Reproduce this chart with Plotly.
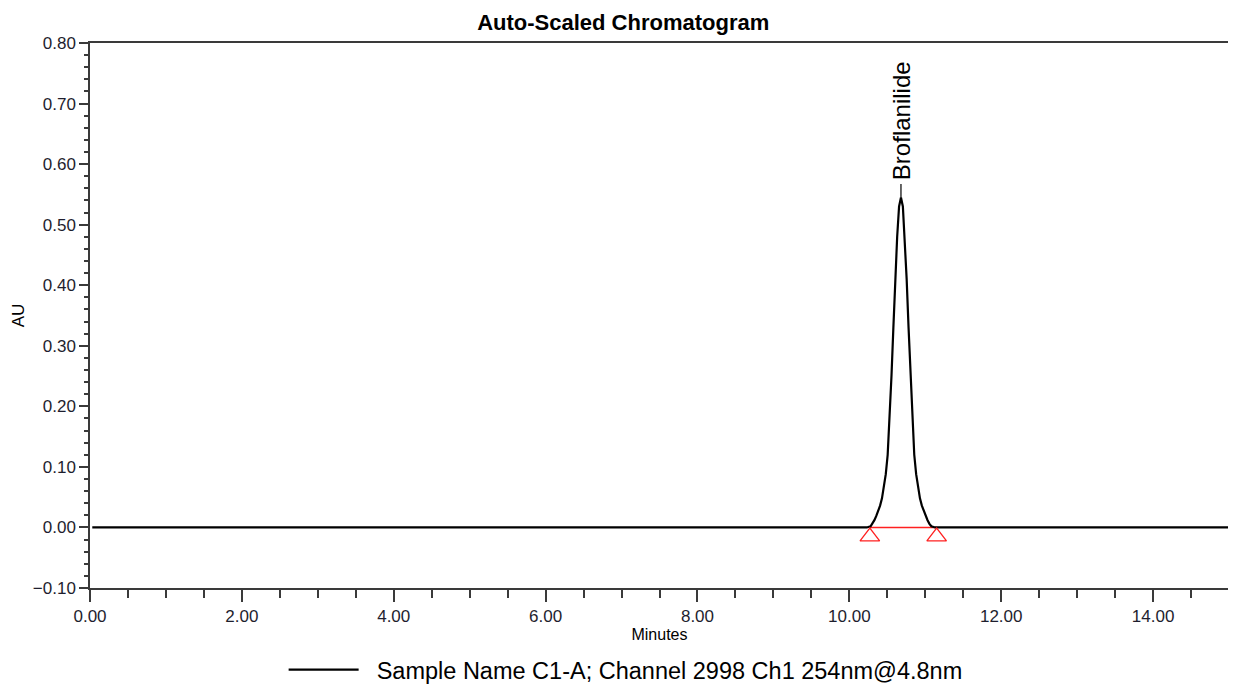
import plotly.graph_objects as go

# ---- data ----
time_min = [0.03, 1.00, 2.00, 2.25, 2.35, 2.45, 3.00, 4.00, 5.00, 6.00, 7.00, 8.00, 9.00, 10.00,
            10.23, 10.28, 10.305, 10.33, 10.355, 10.38, 10.405, 10.43, 10.455, 10.48, 10.505,
            10.53, 10.555, 10.58, 10.605, 10.63, 10.655, 10.68, 10.705, 10.73, 10.755,
            10.78, 10.805, 10.83, 10.855, 10.88, 10.905, 10.93, 10.955, 10.98, 11.005,
            11.03, 11.055, 11.08, 11.13, 11.20, 12.00, 13.00, 14.00, 15.00]
absorbance = [0.000, 0.000, 0.000, 0.0005, 0.001, 0.0005, 0.000, 0.000, 0.000, 0.000, 0.000, 0.000, 0.000, 0.000,
              0.000, 0.002, 0.006, 0.012, 0.019, 0.027, 0.036, 0.048, 0.065, 0.088, 0.120,
              0.175, 0.250, 0.330, 0.410, 0.480, 0.530, 0.545, 0.530, 0.480, 0.410,
              0.330, 0.250, 0.175, 0.120, 0.088, 0.065, 0.048, 0.036, 0.027, 0.019,
              0.012, 0.006, 0.002, 0.000, 0.000, 0.000, 0.000, 0.000, 0.000]

peak_name = "Broflanilide"
peak_apex_time = 10.68
peak_apex_au = 0.545
peak_start = 10.27
peak_end = 11.15
series_name = "Sample Name C1-A; Channel 2998 Ch1 254nm@4.8nm"

x_ticks = [0, 2, 4, 6, 8, 10, 12, 14]
y_ticks = [-0.10, 0.00, 0.10, 0.20, 0.30, 0.40, 0.50, 0.60, 0.70, 0.80]

FONT = "Liberation Sans, Arial, sans-serif"
AXIS_COLOR = "#3a3a3a"
TEXT_COLOR = "#1e1e2e"

fig = go.Figure()

# integration baseline (red)
fig.add_trace(go.Scatter(x=[peak_start, peak_end], y=[0, 0], mode="lines",
                         line=dict(color="#ff2020", width=1.5), showlegend=False,
                         hoverinfo="skip"))

fig.add_trace(go.Scatter(x=time_min, y=absorbance, mode="lines",
                         name="\u00a0\u00a0" + series_name,
                         line=dict(color="black", width=2.2)))

# peak start / end markers
fig.add_trace(go.Scatter(x=[peak_start, peak_end], y=[-0.015, -0.015], mode="markers",
                         marker=dict(symbol="triangle-up-open", size=17, color="#ff2020",
                                     line=dict(width=1.3, color="#ff2020")),
                         showlegend=False, hoverinfo="skip"))

# apex tick line and label
fig.add_shape(type="line", x0=peak_apex_time, x1=peak_apex_time, y0=peak_apex_au,
              y1=peak_apex_au + 0.022, xref="x", yref="y",
              line=dict(color="black", width=1.2))
fig.add_annotation(x=peak_apex_time, y=peak_apex_au + 0.026, xref="x", yref="y",
                   text=peak_name, textangle=-90, showarrow=False,
                   xanchor="center", yanchor="bottom",
                   font=dict(family=FONT, size=24, color="black"))

# the page body adds an 8px offset, so the figure is 8px smaller than the window
fig.update_layout(
    width=1228, height=679,
    margin=dict(l=82, r=7, t=35, b=99, autoexpand=False),
    paper_bgcolor="white", plot_bgcolor="white",
    title=dict(text="<b>Auto-Scaled Chromatogram</b>", x=0.501, xanchor="center",
               y=0.991, yanchor="top",
               font=dict(family=FONT, size=22, color="black")),
    font=dict(family=FONT, color=TEXT_COLOR),
    showlegend=True,
    legend=dict(orientation="h", x=0.17, xanchor="left", y=-0.15, yanchor="middle",
                itemwidth=70, font=dict(family=FONT, size=23.5, color="black"),
                bgcolor="rgba(0,0,0,0)"),
    xaxis=dict(range=[0, 15], tickvals=x_ticks, tickformat=".2f", automargin=False,
               showline=True, linecolor=AXIS_COLOR, linewidth=1.5, mirror=True,
               ticks="outside", ticklen=12, tickwidth=1.5, tickcolor=AXIS_COLOR,
               minor=dict(dtick=0.5, ticks="outside", ticklen=8, tickwidth=1.5,
                          tickcolor=AXIS_COLOR, showgrid=False),
               showgrid=False, zeroline=False,
               tickfont=dict(family=FONT, size=17, color=TEXT_COLOR),
               title=dict(text="Minutes", font=dict(family=FONT, size=16, color="black"),
                          standoff=4)),
    yaxis=dict(range=[-0.10, 0.80], tickvals=y_ticks, tickformat=".2f", automargin=False,
               showline=True, linecolor=AXIS_COLOR, linewidth=1.5, mirror=True,
               ticks="outside", ticklen=9, tickwidth=1.5, tickcolor=AXIS_COLOR,
               minor=dict(dtick=0.02, ticks="outside", ticklen=4, tickwidth=1.5,
                          tickcolor=AXIS_COLOR, showgrid=False),
               showgrid=False, zeroline=False,
               tickfont=dict(family=FONT, size=17, color=TEXT_COLOR),
               title=dict(text="AU", font=dict(family=FONT, size=17, color="black"),
                          standoff=4)),
)

fig.write_html("out.html")
